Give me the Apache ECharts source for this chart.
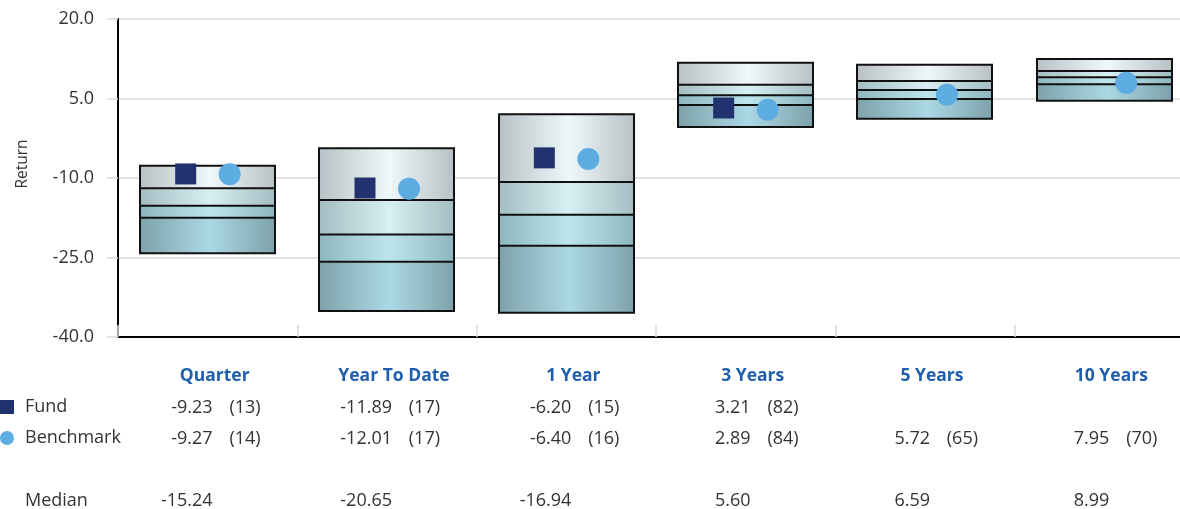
<!DOCTYPE html>
<html>
<head>
<meta charset="utf-8">
<script src="https://cdn.jsdelivr.net/npm/echarts@6/dist/echarts.min.js"></script>
<style>
html,body{margin:0;padding:0;background:#fff;overflow:hidden;}
#chart{width:1180px;height:509px;}
</style>
</head>
<body>
<div id="chart"></div>
<script>
// ---- data ----
const categories = ['Quarter', 'Year To Date', '1 Year', '3 Years', '5 Years', '10 Years'];
const p95 = [-7.68, -4.40, 2.02, 11.76, 11.38, 12.45];
const p75 = [-11.94, -14.15, -10.75, 7.60, 8.30, 10.19];
const median = [-15.24, -20.65, -16.94, 5.60, 6.59, 8.99];
const p25 = [-17.49, -25.79, -22.77, 3.77, 4.91, 7.68];
const p5 = [-24.21, -35.09, -35.42, -0.38, 1.19, 4.59];
const fund = [-9.23, -11.89, -6.20, 3.21, null, null];
const fundRank = [13, 17, 15, 82, null, null];
const bench = [-9.27, -12.01, -6.40, 2.89, 5.72, 7.95];
const benchRank = [14, 17, 16, 84, 65, 70];
const yTicks = { min: -40, max: 20, interval: 15 };

const FONT = '"Open Sans", "Noto Sans", sans-serif';
const TXT = '#333333';

function grad(edge, mid) {
  return new echarts.graphic.LinearGradient(0, 0, 1, 0, [
    { offset: 0, color: edge },
    { offset: 0.52, color: mid },
    { offset: 1, color: edge }
  ]);
}

const chart = echarts.init(document.getElementById('chart'), null, { renderer: 'canvas' });

const boxData = categories.map((c, i) => [i, p5[i], p25[i], median[i], p75[i], p95[i]]);

function fmt(v) { return (v === null || v === undefined) ? ' ' : v.toFixed(2); }
function rk(v) { return (v === null || v === undefined) ? ' ' : '(' + v + ')'; }

const hiddenAxisParts = {
  axisLine: { show: false }, axisTick: { show: false }, splitLine: { show: false }
};

const option = {
  backgroundColor: '#ffffff',
  animation: false,
  grid: { left: 118, width: 1076, top: 19, height: 318, containLabel: false, outerBoundsMode: 'none' },
  legend: {
    orient: 'vertical', left: 0, top: 398, padding: 0,
    itemWidth: 14, itemHeight: 14, itemGap: 13,
    data: ['Fund', 'Benchmark'],
    textStyle: { fontFamily: FONT, fontSize: 18, color: TXT, padding: [0, 0, 0, 6] },
    selectedMode: false
  },
  graphic: [
    { type: 'text', x: 23, y: 164, rotation: Math.PI / 2,
      style: { text: 'Return', fontFamily: FONT, fontSize: 15.5, fill: TXT, align: 'center', verticalAlign: 'middle' } },
    { type: 'text', x: 25, y: 501,
      style: { text: 'Median', fontFamily: FONT, fontSize: 18, fill: TXT, align: 'left', verticalAlign: 'middle' } }
  ],
  xAxis: [
    {
      type: 'category',
      data: categories,
      axisLine: { show: true, onZero: false, lineStyle: { color: '#000', width: 2 } },
      axisTick: { show: true, inside: true, length: 12, lineStyle: { color: '#d9d9d9', width: 1.5 } },
      splitLine: { show: false },
      axisLabel: {
        interval: 0, margin: 24,
        fontFamily: FONT, fontSize: 17.5, fontWeight: 'bold', color: '#1F5FAD',
        lineHeight: 31, padding: [0, 0, 0, 14]
      }
    },
    Object.assign({
      type: 'category',
      data: categories,
      position: 'bottom',
      axisLabel: {
        interval: 0,
        margin: 55,
        padding: [0, 0, 0, 1],
        formatter: function (value, idx) {
          return '{num|' + fmt(fund[idx]) + '}{gap| }{rk|' + rk(fundRank[idx]) + '}\n' +
            '{num|' + fmt(bench[idx]) + '}{gap| }{rk|' + rk(benchRank[idx]) + '}\n' +
            '{num| }{gap| }{rk| }\n' +
            '{num|' + fmt(median[idx]) + '}{gap| }{rk| }';
        },
        rich: {
          num: { fontFamily: FONT, fontSize: 18, color: TXT, width: 57, align: 'right', lineHeight: 31 },
          gap: { fontFamily: FONT, fontSize: 18, width: 14, align: 'right', lineHeight: 31 },
          rk: { fontFamily: FONT, fontSize: 18, color: TXT, width: 34, align: 'right', lineHeight: 31 }
        }
      }
    }, hiddenAxisParts)
  ],
  yAxis: {
    type: 'value',
    min: yTicks.min, max: yTicks.max, interval: yTicks.interval,
    axisLine: { show: true, lineStyle: { color: '#000', width: 2 } },
    axisTick: { show: true, length: 11, lineStyle: { color: '#d9d9d9', width: 1.5 } },
    splitLine: { show: true, lineStyle: { color: '#d9d9d9', width: 1.5 } },
    axisLabel: { margin: 24, fontFamily: FONT, fontSize: 18, color: TXT,
      formatter: v => v.toFixed(1) }
  },
  series: [
    {
      type: 'custom',
      name: 'Universe',
      xAxisIndex: 0,
      data: boxData,
      encode: { x: 0, y: [1, 2, 3, 4, 5] },
      z: 2,
      renderItem: function (params, api) {
        const i = api.value(0);
        const bw = api.size([1, 0])[0] * 0.755;
        const cx = api.coord([i, 0])[0];
        const x0 = Math.round(cx - bw / 2);
        const w = Math.round(bw);
        const y = k => api.coord([i, api.value(k)])[1];
        const y5 = y(1), y25 = y(2), y50 = y(3), y75 = y(4), y95 = y(5);
        const seg = (ya, yb, fill) => ({ type: 'rect', shape: { x: x0, y: yb, width: w, height: ya - yb }, style: { fill: fill } });
        const line = (yy) => ({ type: 'line', shape: { x1: x0, y1: yy, x2: x0 + w, y2: yy }, style: { stroke: '#111', lineWidth: 2 } });
        return {
          type: 'group',
          children: [
            seg(y75, y95, grad('#b8c1c5', '#eef7f9')),
            seg(y50, y75, grad('#a3bdc2', '#d8eff3')),
            seg(y25, y50, grad('#8db6be', '#bde6ec')),
            seg(y5, y25, grad('#7ea2ac', '#abd8e3')),
            line(y75), line(y50), line(y25),
            { type: 'rect', shape: { x: x0, y: y95, width: w, height: y5 - y95 },
              style: { fill: 'none', stroke: '#111', lineWidth: 2 } }
          ]
        };
      }
    },
    {
      type: 'scatter', name: 'Fund', data: fund, z: 5, xAxisIndex: 0,
      symbol: 'rect', symbolSize: 21, symbolOffset: [-22, 0],
      itemStyle: { color: '#22326E', opacity: 1 }
    },
    {
      type: 'scatter', name: 'Benchmark', data: bench, z: 5, xAxisIndex: 0,
      symbol: 'circle', symbolSize: 22, symbolOffset: [22, 0],
      itemStyle: { color: '#5DADE2', opacity: 1 }
    }
  ]
};
chart.setOption(option);
</script>
</body>
</html>
